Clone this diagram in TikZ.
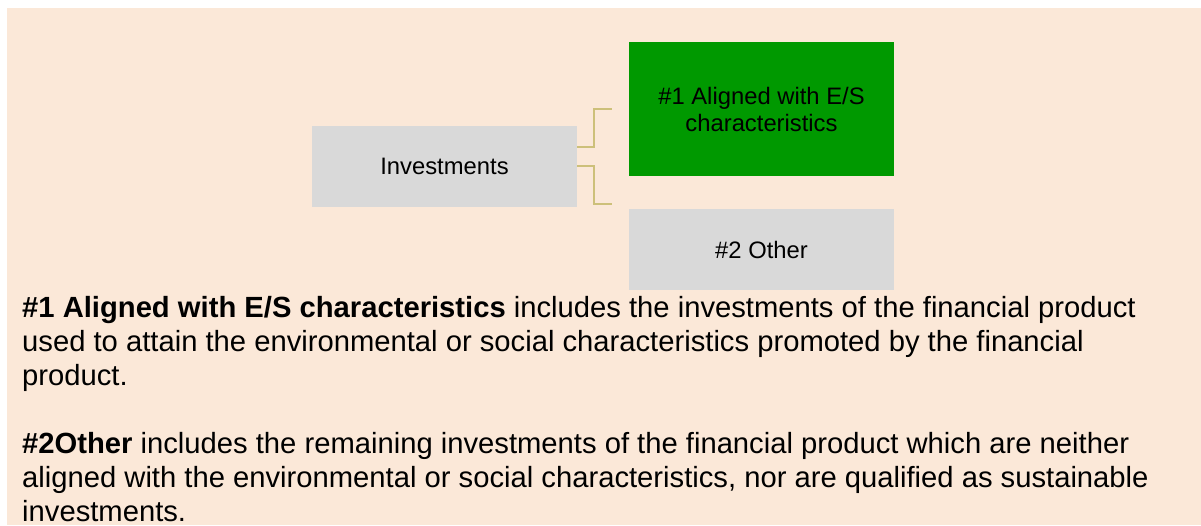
\documentclass[tikz,border=0pt]{standalone}
\usepackage{fontspec}
\setmainfont{Liberation Sans}
\definecolor{bgbeige}{HTML}{FBE8D8}
\definecolor{boxgray}{HTML}{D9D9D9}
\definecolor{boxgreen}{HTML}{009900}
\definecolor{connkhaki}{RGB}{205,192,122}
\tikzset{
  box/.style={draw=none, inner sep=0pt, align=center, font=\fontsize{23.8}{27}\selectfont},
  conn/.style={draw=connkhaki, line width=2pt},
  para/.style={inner sep=0pt, align=left, anchor=base west, font=\fontsize{29.2}{34}\selectfont}
}
\begin{document}
\begin{tikzpicture}[x=1pt,y=-1pt]
\useasboundingbox (0,0) rectangle (1201,525);
\fill[bgbeige] (7,8) rectangle (1201,525);
% boxes
\node[box, fill=boxgray, minimum width=265pt, minimum height=81pt] (inv) at (444.5,166.5) {Investments};
\node[box, fill=boxgreen, minimum width=265pt, minimum height=134pt] (al) at (761.5,109) {\#1 Aligned with E/S\\characteristics};
\node[box, fill=boxgray, minimum width=265pt, minimum height=81pt] (oth) at (761.5,249.5) {\#2 Other};
% connector ends
\coordinate (c1) at (612,109);
\coordinate (c2) at (612,204);
\draw[conn] (inv.east |- 0,147) -- (594,147) |- (c1);
\draw[conn] (inv.east |- 0,166) -- (594,166) |- (c2);
% text (anchored at the baseline of each paragraph's last line)
\node[para] (p1) at (22,385) {\textbf{\#1 Aligned with E/S characteristics} includes the investments of the financial product\\used to attain the environmental or social characteristics promoted by the financial\\product.};
\node[para] (p2) at (22,521) {\textbf{\#2Other} includes the remaining investments of the financial product which are neither\\aligned with the environmental or social characteristics, nor are qualified as sustainable\\investments.};
\end{tikzpicture}
\end{document}
